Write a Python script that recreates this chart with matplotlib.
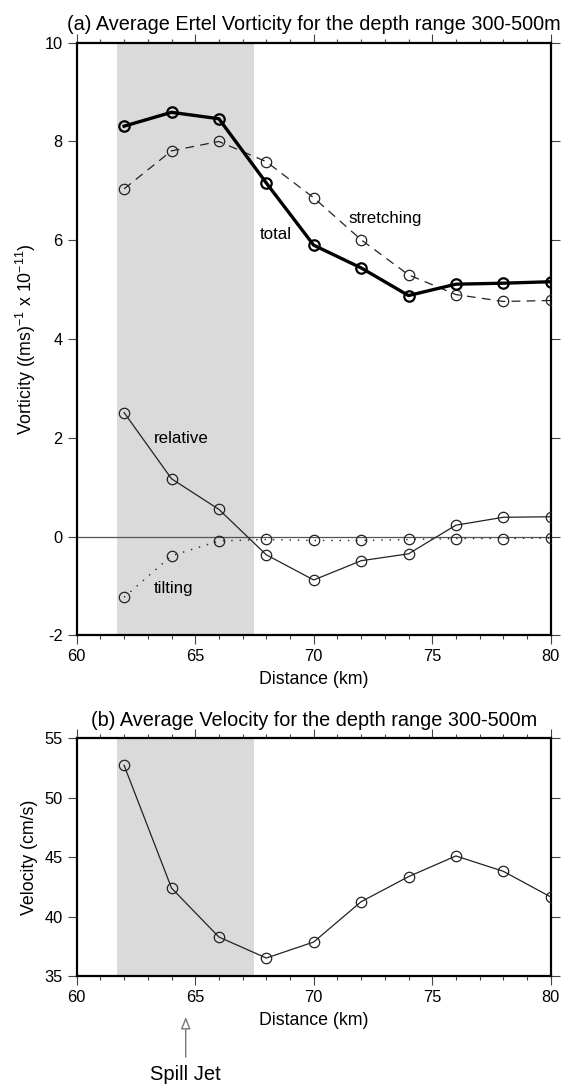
import numpy as np
import matplotlib
matplotlib.use('Agg')
import matplotlib.pyplot as plt

plt.rcParams['font.family'] = ['Liberation Sans', 'DejaVu Sans']
plt.rcParams['mathtext.fontset'] = 'custom'
plt.rcParams['mathtext.rm'] = 'Liberation Sans'
plt.rcParams['mathtext.default'] = 'regular'
plt.rcParams['axes.unicode_minus'] = False

# section distance (km)
distance = [62, 64, 66, 68, 70, 72, 74, 76, 78, 80]
# Ertel vorticity terms, 300-500 m mean (x 1e-11 (ms)^-1)
total = [8.31, 8.59, 8.46, 7.16, 5.90, 5.44, 4.88, 5.11, 5.13, 5.16]
stretching = [7.04, 7.81, 8.00, 7.59, 6.86, 6.01, 5.30, 4.90, 4.76, 4.78]
relative = [2.51, 1.17, 0.55, -0.37, -0.88, -0.49, -0.35, 0.23, 0.39, 0.40]
tilting = [-1.23, -0.39, -0.09, -0.06, -0.08, -0.08, -0.06, -0.04, -0.04, -0.03]
# mean velocity, 300-500 m (cm/s)
velocity = [52.73, 42.40, 38.28, 36.51, 37.86, 41.25, 43.36, 45.10, 43.81, 41.65]
spill_range = (61.7, 67.5)
spill_x = 64.6

W, H = 563, 1086
fig = plt.figure(figsize=(W / 100, H / 100), dpi=100)
left, right = 76.7, 550.7
ax1 = fig.add_axes([left / W, 1 - 635.3 / H, (right - left) / W, (635.3 - 42.7) / H])
ax2 = fig.add_axes([left / W, 1 - 976.0 / H, (right - left) / W, (976.0 - 738.3) / H])

def style_axes(ax):
    ax.set_xlim(60, 80)
    ax.set_xticks(np.arange(60, 81, 5))
    ax.set_xticks(np.arange(60, 81, 1), minor=True)
    for s in ax.spines.values():
        s.set_linewidth(1.6)
    ax.tick_params(which='both', direction='out', top=True, right=True,
                   width=0.8, color='#444444', labelsize=11.8, pad=3.5)
    ax.tick_params(which='major', length=6.5)
    ax.tick_params(which='minor', length=3)
    ax.tick_params(axis='y', which='minor', left=False, right=False)
    ax.axvspan(*spill_range, color='#dadada', lw=0, zorder=0)
    ax.set_xlabel('Distance (km)', fontsize=12.8, labelpad=5)

style_axes(ax1)
ax1.set_ylim(-2, 10)
ax1.set_yticks(np.arange(-2, 11, 2))
ax1.axhline(0, color='#555555', lw=0.9, zorder=1)

mk = dict(marker='o', mfc='none', ms=7.5)
ax1.plot(distance, total, color='black', lw=2.4, mew=1.6, **mk, zorder=4)
ax1.plot(distance, stretching, color='#222222', lw=0.9, mew=0.9,
         dashes=(7, 5), **mk, zorder=3)
ax1.plot(distance, relative, color='#222222', lw=0.9, mew=0.9, **mk, zorder=3)
ax1.plot(distance, tilting, color='#222222', lw=1.0, mew=0.9,
         dashes=(1, 5), **mk, zorder=3)

ax1.text(68.4, 6.11, 'total', fontsize=12.2, ha='center', va='center')
ax1.text(73.0, 6.44, 'stretching', fontsize=12.2, ha='center', va='center')
ax1.text(64.43, 1.99, 'relative', fontsize=12.2, ha='center', va='center')
ax1.text(64.08, -1.05, 'tilting', fontsize=12.2, ha='center', va='center')

ax1.set_ylabel('Vorticity ((ms)$^{-1}$ x 10$^{-11}$)', fontsize=12.8, labelpad=5)
ax1.set_title('(a) Average Ertel Vorticity for the depth range 300-500m',
              fontsize=14.3, pad=9)

style_axes(ax2)
ax2.set_ylim(35, 55)
ax2.set_yticks(np.arange(35, 56, 5))
ax2.plot(distance, velocity, color='#222222', lw=0.9, mew=0.9, **mk, zorder=3)
ax2.set_ylabel('Velocity (cm/s)', fontsize=12.8, labelpad=5)
ax2.set_title('(b) Average Velocity for the depth range 300-500m',
              fontsize=14.3, pad=9)

ax2.annotate('Spill Jet', xy=(spill_x, -0.172), xycoords=('data', 'axes fraction'),
             xytext=(spill_x, -0.416), textcoords=('data', 'axes fraction'),
             ha='center', va='center', fontsize=14.5, annotation_clip=False,
             arrowprops=dict(arrowstyle='-|>,head_length=0.5,head_width=0.2',
                             fc='white', ec='#777777', lw=1.0,
                             shrinkA=4, shrinkB=0))

fig.savefig('out.png', dpi=100)
